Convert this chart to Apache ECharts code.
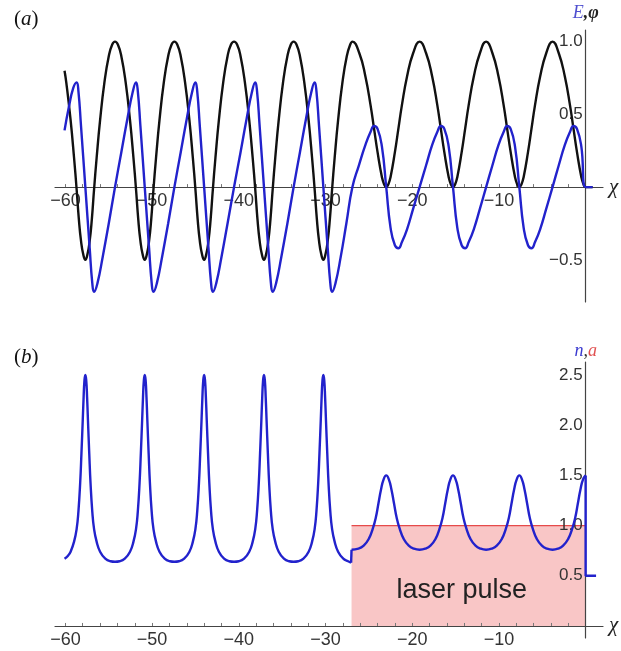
<!DOCTYPE html>
<html>
<head>
<meta charset="utf-8">
<script src="https://cdn.jsdelivr.net/npm/echarts@6/dist/echarts.min.js"></script>
<style>
html,body{margin:0;padding:0;background:#fff;}
#chart{width:621px;height:651px;}
</style>
</head>
<body>
<div id="chart"></div>
<script>
// ---------- tick values ----------
const xTicks = [-60, -50, -40, -30, -20, -10];
const xMinorTicks = [-60,-58,-56,-54,-52,-50,-48,-46,-44,-42,-40,-38,-36,-34,-32,-30,-28,-26,-24,-22,-20,-18,-16,-14,-12,-10,-8,-6,-4,-2];
const yTicksA = [-0.5, 0.5, 1.0];
const yTicksB = [0.5, 1.0, 1.5, 2.0, 2.5];

// ---------- panel (a): potential phi (black) ----------
const phiA = [
[-60.1,0.80],[-59.9,0.72],[-59.4,0.46],[-59.0,0.20],[-58.7,-0.02],[-58.45,-0.22],[-58.2,-0.37],[-57.95,-0.46],[-57.7,-0.50],[-57.45,-0.46],[-57.2,-0.37],[-56.95,-0.22],[-56.7,-0.02],[-56.4,0.20],[-56.0,0.46],[-55.5,0.72],[-55.0,0.90],[-54.6,0.98],[-54.28,1.0],
[-53.95,0.98],[-53.55,0.90],[-53.05,0.72],[-52.55,0.46],[-52.15,0.20],[-51.85,-0.02],[-51.6,-0.22],[-51.35,-0.37],[-51.1,-0.46],[-50.85,-0.50],[-50.6,-0.46],[-50.35,-0.37],[-50.1,-0.22],[-49.85,-0.02],[-49.55,0.20],[-49.15,0.46],[-48.65,0.72],[-48.15,0.90],[-47.75,0.98],[-47.43,1.0],
[-47.1,0.98],[-46.7,0.90],[-46.2,0.72],[-45.7,0.46],[-45.3,0.20],[-45.0,-0.02],[-44.75,-0.22],[-44.5,-0.37],[-44.25,-0.46],[-44.0,-0.50],[-43.75,-0.46],[-43.5,-0.37],[-43.25,-0.22],[-43.0,-0.02],[-42.7,0.20],[-42.3,0.46],[-41.8,0.72],[-41.3,0.90],[-40.9,0.98],[-40.55,1.0],
[-40.2,0.98],[-39.8,0.90],[-39.3,0.72],[-38.8,0.46],[-38.4,0.20],[-38.1,-0.02],[-37.85,-0.22],[-37.6,-0.37],[-37.35,-0.46],[-37.1,-0.50],[-36.85,-0.46],[-36.6,-0.37],[-36.35,-0.22],[-36.1,-0.02],[-35.8,0.20],[-35.4,0.46],[-34.9,0.72],[-34.4,0.90],[-34.0,0.98],[-33.68,1.0],
[-33.35,0.98],[-32.95,0.90],[-32.45,0.72],[-31.95,0.46],[-31.55,0.20],[-31.25,-0.02],[-31.0,-0.22],[-30.75,-0.37],[-30.5,-0.46],[-30.25,-0.50],[-30.0,-0.46],[-29.75,-0.37],[-29.5,-0.22],[-29.25,-0.02],[-28.95,0.20],[-28.55,0.46],[-28.05,0.72],[-27.55,0.90],[-27.15,0.98],[-26.9,1.0],
[-26.1,0.92],[-25.4,0.76],[-24.8,0.56],[-24.4,0.40],[-24.0,0.24],[-23.5,0.07],[-23.25,0.02],[-23.0,0.0],[-22.75,0.02],[-22.5,0.07],[-22.0,0.24],[-21.6,0.40],[-21.2,0.56],[-20.6,0.76],[-19.9,0.92],[-19.15,1.0],
[-18.4,0.92],[-17.7,0.76],[-17.1,0.56],[-16.7,0.40],[-16.3,0.24],[-15.8,0.07],[-15.55,0.02],[-15.3,0.0],[-15.05,0.02],[-14.8,0.07],[-14.3,0.24],[-13.9,0.40],[-13.5,0.56],[-12.9,0.76],[-12.2,0.92],[-11.48,1.0],
[-10.75,0.92],[-10.05,0.76],[-9.45,0.56],[-9.05,0.40],[-8.65,0.24],[-8.15,0.07],[-7.9,0.02],[-7.65,0.0],[-7.4,0.02],[-7.15,0.07],[-6.65,0.24],[-6.25,0.40],[-5.85,0.56],[-5.25,0.76],[-4.55,0.92],[-3.82,1.0],
[-3.1,0.92],[-2.4,0.76],[-1.8,0.56],[-1.4,0.40],[-1.0,0.24],[-0.5,0.07],[-0.25,0.02],[0,0],[0.8,0]
];

// ---------- panel (a): field E (blue) ----------
const fieldA = [
[-60.1,0.39],[-59.6,0.55],[-59.1,0.68],[-58.7,0.72],[-58.5,0.66],[-58.2,0.42],[-57.7,0],[-57.2,-0.42],[-56.9,-0.66],[-56.7,-0.72],[-56.3,-0.66],[-55.7,-0.48],[-55.0,-0.25],[-54.28,0],[-53.55,0.24],[-52.85,0.47],[-52.25,0.65],[-51.85,0.72],
[-51.65,0.66],[-51.35,0.42],[-50.85,0],[-50.35,-0.42],[-50.05,-0.66],[-49.85,-0.72],[-49.45,-0.66],[-48.85,-0.48],[-48.15,-0.25],[-47.43,0],[-46.7,0.24],[-46.0,0.47],[-45.4,0.65],[-45.0,0.72],
[-44.8,0.66],[-44.5,0.42],[-44.0,0],[-43.5,-0.42],[-43.2,-0.66],[-43.0,-0.72],[-42.6,-0.66],[-42.0,-0.48],[-41.3,-0.25],[-40.55,0],[-39.8,0.24],[-39.1,0.47],[-38.5,0.65],[-38.1,0.72],
[-37.9,0.66],[-37.6,0.42],[-37.1,0],[-36.6,-0.42],[-36.3,-0.66],[-36.1,-0.72],[-35.7,-0.66],[-35.1,-0.48],[-34.4,-0.25],[-33.68,0],[-32.95,0.24],[-32.25,0.47],[-31.65,0.65],[-31.25,0.72],
[-31.05,0.66],[-30.75,0.42],[-30.25,0],[-29.75,-0.42],[-29.45,-0.66],[-29.25,-0.72],[-28.85,-0.66],[-28.25,-0.48],[-27.6,-0.25],[-26.9,0],
[-26.15,0.15],[-25.4,0.29],[-24.8,0.38],[-24.4,0.42],[-24.0,0.40],[-23.5,0.28],[-23.0,0],[-22.5,-0.28],[-22.0,-0.40],[-21.6,-0.42],[-21.2,-0.38],[-20.6,-0.29],[-19.9,-0.15],[-19.15,0],
[-18.4,0.15],[-17.7,0.29],[-17.1,0.38],[-16.7,0.42],[-16.3,0.40],[-15.8,0.28],[-15.3,0],[-14.8,-0.28],[-14.3,-0.40],[-13.9,-0.42],[-13.5,-0.38],[-12.9,-0.29],[-12.2,-0.15],[-11.48,0],
[-10.75,0.15],[-10.05,0.29],[-9.45,0.38],[-9.05,0.42],[-8.65,0.40],[-8.15,0.28],[-7.65,0],[-7.15,-0.28],[-6.65,-0.40],[-6.25,-0.42],[-5.85,-0.38],[-5.25,-0.29],[-4.55,-0.15],[-3.82,0],
[-3.1,0.15],[-2.4,0.29],[-1.8,0.38],[-1.4,0.42],[-1.0,0.40],[-0.5,0.28],[0,0],[0.8,0]
];

// ---------- panel (b): density n (blue) ----------
const densityWake = [
[-60.1,0.67],[-59.7,0.70],[-59.4,0.74],[-59.0,0.84],[-58.7,0.97],[-58.5,1.14],[-58.3,1.42],[-58.15,1.72],[-58.0,2.05],[-57.9,2.28],[-57.8,2.45],[-57.7,2.50],[-57.6,2.45],[-57.5,2.28],[-57.4,2.05],[-57.25,1.72],[-57.1,1.42],[-56.9,1.14],[-56.7,0.97],[-56.4,0.84],[-56.0,0.74],[-55.4,0.67],[-54.8,0.645],[-54.28,0.64],
[-53.75,0.645],[-53.15,0.67],[-52.55,0.74],[-52.15,0.84],[-51.85,0.97],[-51.65,1.14],[-51.45,1.42],[-51.3,1.72],[-51.15,2.05],[-51.05,2.28],[-50.95,2.45],[-50.85,2.50],[-50.75,2.45],[-50.65,2.28],[-50.55,2.05],[-50.4,1.72],[-50.25,1.42],[-50.05,1.14],[-49.85,0.97],[-49.55,0.84],[-49.15,0.74],[-48.55,0.67],[-47.95,0.645],[-47.43,0.64],
[-46.9,0.645],[-46.3,0.67],[-45.7,0.74],[-45.3,0.84],[-45.0,0.97],[-44.8,1.14],[-44.6,1.42],[-44.45,1.72],[-44.3,2.05],[-44.2,2.28],[-44.1,2.45],[-44.0,2.50],[-43.9,2.45],[-43.8,2.28],[-43.7,2.05],[-43.55,1.72],[-43.4,1.42],[-43.2,1.14],[-43.0,0.97],[-42.7,0.84],[-42.3,0.74],[-41.7,0.67],[-41.1,0.645],[-40.55,0.64],
[-40.0,0.645],[-39.4,0.67],[-38.8,0.74],[-38.4,0.84],[-38.1,0.97],[-37.9,1.14],[-37.7,1.42],[-37.55,1.72],[-37.4,2.05],[-37.3,2.28],[-37.2,2.45],[-37.1,2.50],[-37.0,2.45],[-36.9,2.28],[-36.8,2.05],[-36.65,1.72],[-36.5,1.42],[-36.3,1.14],[-36.1,0.97],[-35.8,0.84],[-35.4,0.74],[-34.8,0.67],[-34.2,0.645],[-33.68,0.64],
[-33.15,0.645],[-32.55,0.67],[-31.95,0.74],[-31.55,0.84],[-31.25,0.97],[-31.05,1.14],[-30.85,1.42],[-30.7,1.72],[-30.55,2.05],[-30.45,2.28],[-30.35,2.45],[-30.25,2.50],[-30.15,2.45],[-30.05,2.28],[-29.95,2.05],[-29.8,1.72],[-29.65,1.42],[-29.45,1.14],[-29.25,0.97],[-28.95,0.84],[-28.55,0.74],[-27.95,0.67],[-27.4,0.645],[-27.05,0.63]
];
const densityFront = [[-27.05,0.63],[-27.0,0.76]];
const densityPulse = [
[-27.0,0.76],[-26.2,0.77],[-25.6,0.80],[-25.0,0.87],[-24.55,0.97],[-24.2,1.08],[-23.9,1.22],[-23.6,1.36],[-23.3,1.46],[-23.0,1.50],[-22.7,1.46],[-22.4,1.36],[-22.1,1.22],[-21.8,1.08],[-21.45,0.97],[-21.0,0.87],[-20.4,0.80],[-19.8,0.77],[-19.15,0.76],
[-18.5,0.77],[-17.9,0.80],[-17.3,0.87],[-16.85,0.97],[-16.5,1.08],[-16.2,1.22],[-15.9,1.36],[-15.6,1.46],[-15.3,1.50],[-15.0,1.46],[-14.7,1.36],[-14.4,1.22],[-14.1,1.08],[-13.75,0.97],[-13.3,0.87],[-12.7,0.80],[-12.1,0.77],[-11.48,0.76],
[-10.85,0.77],[-10.25,0.80],[-9.65,0.87],[-9.2,0.97],[-8.85,1.08],[-8.55,1.22],[-8.25,1.36],[-7.95,1.46],[-7.65,1.50],[-7.35,1.46],[-7.05,1.36],[-6.75,1.22],[-6.45,1.08],[-6.1,0.97],[-5.65,0.87],[-5.05,0.80],[-4.45,0.77],[-3.82,0.76],
[-3.2,0.77],[-2.6,0.80],[-2.0,0.87],[-1.55,0.97],[-1.2,1.08],[-0.9,1.22],[-0.6,1.36],[-0.3,1.46],[0,1.50]
];
const densityEdge = [[0,1.50],[0,0.50],[1.2,0.50]];

// ---------- panel (b): laser amplitude a ----------
const laserA = [[-27,1.0],[0,1.0]];
const laserLabel = [[-14.3,0.35]];

// ---------- layout / styling ----------
const X_MIN = -61.2, X_MAX = 2;
const GRID_LEFT = 55, GRID_W = 548;
const A_TOP = 30, A_H = 272, A_MIN = -0.79, A_MAX = 1.08;
const B_TOP = 362, B_H = 276, B_MIN = -0.12, B_MAX = 2.63;
const BLUE = '#2222cc';
const BLACK = '#111111';
const AXIS = '#444444';
const fmt = v => (Math.abs(v) < 1e-9 ? '' : v.toFixed(1).replace('-', '\u2212'));
const fmtX = v => String(v).replace('-', '\u2212');
// offsets that move each axis (line + labels) onto the other axis' zero
const yOffset = -(0 - X_MIN) / (X_MAX - X_MIN) * GRID_W;
const xOffsetA = -(0 - A_MIN) / (A_MAX - A_MIN) * A_H;
const xOffsetB = -(0 - B_MIN) / (B_MAX - B_MIN) * B_H;

function xAxisCfg(grid, off){
  return {
    gridIndex: grid, type: 'value', min: X_MIN, max: X_MAX, z: 3,
    position: 'bottom', offset: off,
    axisLine: {onZero: false, lineStyle: {color: AXIS, width: 1.2}},
    axisTick: {show: true, customValues: xMinorTicks, inside: true, length: 3, lineStyle: {color: '#777', width: 1}},
    axisLabel: {customValues: xTicks, formatter: fmtX, fontSize: 18, color: '#333',
      fontFamily: 'Liberation Sans, Arial, sans-serif', margin: 5},
    splitLine: {show: false},
    name: 'χ', nameLocation: 'end', nameGap: 6,
    nameTextStyle: {fontFamily: 'Liberation Serif, serif', fontStyle: 'italic', fontSize: 21, color: '#222', verticalAlign: 'middle'}
  };
}
function yAxisCfg(grid, min, max, ticks, name, gap, rich){
  return {
    gridIndex: grid, type: 'value', min: min, max: max, z: 3,
    position: 'left', offset: yOffset,
    axisLine: {onZero: false, lineStyle: {color: AXIS, width: 1.2}},
    axisTick: {show: false},
    axisLabel: {customValues: ticks, formatter: fmt, fontSize: 17, color: '#333',
      fontFamily: 'Liberation Sans, Arial, sans-serif', margin: 3},
    splitLine: {show: false},
    name: name, nameLocation: 'end', nameGap: gap,
    nameTextStyle: {rich: rich, align: 'center'}
  };
}
const titleRich = {
  p: {fontFamily: 'Liberation Serif, serif', fontSize: 21, fontWeight: 'normal', color: '#111'},
  i: {fontFamily: 'Liberation Serif, serif', fontSize: 21, fontWeight: 'normal', fontStyle: 'italic', color: '#111'}
};

const chart = echarts.init(document.getElementById('chart'), null, {renderer: 'canvas'});
chart.setOption({
  backgroundColor: '#ffffff',
  animation: false,
  title: [
    {text: '{p|(}{i|a}{p|)}', left: 9, top: 4, textStyle: {fontWeight: 'normal', rich: titleRich}},
    {text: '{p|(}{i|b}{p|)}', left: 9, top: 342, textStyle: {fontWeight: 'normal', rich: titleRich}}
  ],
  grid: [
    {left: GRID_LEFT, width: GRID_W, top: A_TOP, height: A_H},
    {left: GRID_LEFT, width: GRID_W, top: B_TOP, height: B_H}
  ],
  xAxis: [xAxisCfg(0, xOffsetA), xAxisCfg(1, xOffsetB)],
  yAxis: [
    yAxisCfg(0, A_MIN, A_MAX, yTicksA, '{e|E}{k|,φ}', 8, {
      e: {fontFamily: 'Liberation Serif, serif', fontStyle: 'italic', fontSize: 18, color: '#5050d0'},
      k: {fontFamily: 'Liberation Serif, serif', fontStyle: 'italic', fontWeight: 'bold', fontSize: 18, color: '#222'}
    }),
    yAxisCfg(1, B_MIN, B_MAX, yTicksB, '{n|n}{c|,}{a|a}', 2, {
      n: {fontFamily: 'Liberation Serif, serif', fontStyle: 'italic', fontSize: 18, color: '#3a3ad0'},
      c: {fontFamily: 'Liberation Serif, serif', fontSize: 18, color: '#333'},
      a: {fontFamily: 'Liberation Serif, serif', fontStyle: 'italic', fontSize: 18, color: '#e05050'}
    })
  ],
  series: [
    {type: 'line', name: 'phi', xAxisIndex: 0, yAxisIndex: 0, data: phiA, showSymbol: false,
     smooth: 0.5, lineStyle: {color: BLACK, width: 2.4}, z: 4},
    {type: 'line', name: 'E', xAxisIndex: 0, yAxisIndex: 0, data: fieldA, showSymbol: false,
     smooth: 0.5, lineStyle: {color: BLUE, width: 2.4}, z: 5},
    {type: 'line', name: 'a', xAxisIndex: 1, yAxisIndex: 1, data: laserA, showSymbol: false,
     lineStyle: {color: '#e64a4a', width: 1.3}, areaStyle: {color: '#f9c6c6', opacity: 1}, z: 1,
     markPoint: {symbol: 'circle', symbolSize: 0, silent: true,
       data: [{coord: laserLabel[0], value: 'laser pulse'}],
       label: {show: true, position: 'inside', formatter: 'laser pulse', fontSize: 27,
         fontFamily: 'Liberation Sans, Arial, sans-serif', color: '#222'}}},
    {type: 'line', name: 'n1', xAxisIndex: 1, yAxisIndex: 1, data: densityWake, showSymbol: false,
     smooth: 0.5, lineStyle: {color: BLUE, width: 2.4}, z: 5},
    {type: 'line', name: 'n2', xAxisIndex: 1, yAxisIndex: 1, data: densityFront, showSymbol: false,
     smooth: false, lineStyle: {color: BLUE, width: 2.4}, z: 5},
    {type: 'line', name: 'n3', xAxisIndex: 1, yAxisIndex: 1, data: densityPulse, showSymbol: false,
     smooth: 0.5, lineStyle: {color: BLUE, width: 2.4}, z: 5},
    {type: 'line', name: 'n4', xAxisIndex: 1, yAxisIndex: 1, data: densityEdge, showSymbol: false,
     smooth: false, lineStyle: {color: BLUE, width: 2.4}, z: 5}
  ]
});
</script>
</body>
</html>
